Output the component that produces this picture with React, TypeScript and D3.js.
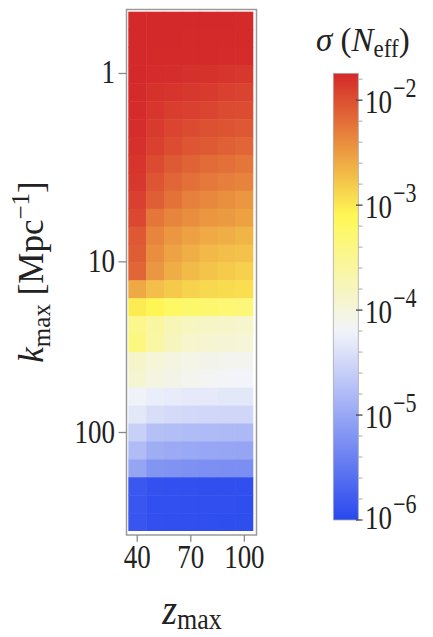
import React from "react";
import * as d3 from "d3";

// ---- data ----
const zMax = [40, 50, 60, 70, 80, 90, 100];
const xTicks = [40, 70, 100];
const yTickLabels = ["1", "10", "100"];
// fractional row position (row index units, 0 = top edge) where each k tick sits
const yTickRowPos = [3.45, 13.97, 23.5];
const cbMajorExp = [-2, -3, -4, -5, -6];
const cbDomain = [-6, -1.744]; // log10 sigma range of the colour bar
// log10 sigma(N_eff), rows top (small k) to bottom (large k), columns z = 40..100
const log10Sigma: number[][] = [
  [-1.75, -1.75, -1.75, -1.75, -1.75, -1.75, -1.76],
  [-1.75, -1.75, -1.75, -1.76, -1.76, -1.76, -1.76],
  [-1.75, -1.76, -1.76, -1.76, -1.76, -1.77, -1.77],
  [-1.75, -1.77, -1.78, -1.8, -1.81, -1.82, -1.85],
  [-1.76, -1.81, -1.82, -1.85, -1.86, -1.9, -1.92],
  [-1.77, -1.83, -1.88, -1.9, -1.93, -1.97, -1.98],
  [-1.78, -1.86, -1.93, -1.97, -2.01, -2.03, -2.06],
  [-1.8, -1.9, -1.98, -2.04, -2.07, -2.11, -2.14],
  [-1.82, -1.97, -2.07, -2.13, -2.18, -2.21, -2.25],
  [-1.85, -2.04, -2.15, -2.21, -2.27, -2.31, -2.34],
  [-1.9, -2.1, -2.23, -2.32, -2.37, -2.42, -2.46],
  [-1.95, -2.25, -2.35, -2.41, -2.46, -2.49, -2.53],
  [-2.06, -2.35, -2.46, -2.53, -2.59, -2.62, -2.66],
  [-2.09, -2.41, -2.54, -2.62, -2.68, -2.72, -2.75],
  [-2.14, -2.46, -2.61, -2.7, -2.76, -2.81, -2.84],
  [-2.58, -2.72, -2.8, -2.85, -2.89, -2.91, -2.93],
  [-3.02, -3.09, -3.21, -3.25, -3.27, -3.3, -3.33],
  [-3.46, -3.6, -3.74, -3.81, -3.85, -3.88, -3.89],
  [-3.38, -3.63, -3.8, -3.9, -3.93, -3.95, -3.97],
  [-3.87, -3.97, -4.03, -4.07, -4.09, -4.11, -4.13],
  [-3.93, -4.03, -4.08, -4.11, -4.15, -4.18, -4.2],
  [-4.22, -4.27, -4.29, -4.31, -4.32, -4.33, -4.33],
  [-4.33, -4.43, -4.47, -4.49, -4.5, -4.51, -4.51],
  [-4.58, -4.74, -4.77, -4.79, -4.8, -4.81, -4.82],
  [-4.79, -4.94, -4.97, -4.99, -5.01, -5.02, -5.03],
  [-5.03, -5.19, -5.22, -5.24, -5.25, -5.26, -5.27],
  [-5.84, -5.91, -5.92, -5.92, -5.93, -5.93, -5.93],
  [-5.85, -5.92, -5.92, -5.93, -5.93, -5.93, -5.94],
  [-5.86, -5.92, -5.93, -5.93, -5.93, -5.94, -5.94],
];
const cmapStops = [-6, -4.2, -3.1, -1.745];
const cmapColors = ["rgb(40,72,238)", "rgb(242,244,250)", "rgb(255,248,85)", "rgb(212,40,42)"];

// ---- layout ----
const W = 433;
const H = 637;
const FONT = "'Liberation Serif', 'DejaVu Serif', serif";
const SY = 1.22;

export default function App() {
  const nRows = log10Sigma.length;
  const x = d3.scaleLinear().domain([35, 105]).range([128.3, 253.3]);
  const row = d3.scaleLinear().domain([0, nRows]).range([11.7, 531]);
  const cb = d3.scaleLinear().domain(cbDomain).range([520, 73.3]);
  const color = d3
    .scaleLinear<string>()
    .domain(cmapStops)
    .range(cmapColors)
    .interpolate(d3.interpolateRgb)
    .clamp(true);

  const halfStep = (zMax[1] - zMax[0]) / 2;
  const cells: JSX.Element[] = [];
  log10Sigma.forEach((r, i) => {
    r.forEach((v, j) => {
      const x0 = x(zMax[j] - halfStep);
      const x1 = x(zMax[j] + halfStep);
      const y0 = row(i);
      const y1 = row(i + 1);
      cells.push(
        <rect
          key={`${i}-${j}`}
          x={x0}
          y={y0}
          width={x1 - x0 + (j < r.length - 1 ? 0.5 : 0)}
          height={y1 - y0 + (i < nRows - 1 ? 0.5 : 0)}
          fill={color(v)}
        />
      );
    });
  });

  const gradStops = d3.range(0, 61).map((k) => {
    const t = k / 60;
    const v = cbDomain[0] + t * (cbDomain[1] - cbDomain[0]);
    return <stop key={k} offset={`${t * 100}%`} stopColor={color(v)} />;
  });

  const minorTicks = d3
    .range(0, 30)
    .map((k) => cbDomain[0] + 0.2 * k)
    .filter((v) => v <= cbDomain[1] + 1e-9 && Math.abs(v - Math.round(v)) > 1e-6);

  const frame = { x0: 126.5, y0: 9.5, x1: 256.5, y1: 535 };
  const cbX0 = 333.3;
  const cbX1 = 358.3;

  return (
    <svg width={W} height={H} style={{ display: "block", position: "absolute", left: 0, top: 0 }}>
      <rect width={W} height={H} fill="#fff" />
      <defs>
        <linearGradient id="cbg" x1="0" y1="1" x2="0" y2="0">
          {gradStops}
        </linearGradient>
      </defs>
      {/* heatmap */}
      <g>{cells}</g>
      {/* frame */}
      <rect
        x={frame.x0}
        y={frame.y0}
        width={frame.x1 - frame.x0}
        height={frame.y1 - frame.y0}
        fill="none"
        stroke="#9a9a9a"
        strokeWidth={1.5}
      />
      {/* y ticks */}
      {yTickRowPos.map((p, i) => {
        const yy = row(p);
        return (
          <g key={`yt${i}`}>
            <line x1={118.5} x2={frame.x0} y1={yy} y2={yy} stroke="#888" strokeWidth={1.3} />
            <text
              transform={`translate(115,${yy + 10}) scale(1,${SY})`}
              textAnchor="end"
              fontFamily={FONT}
              fontSize={27}
              fill="#222"
            >
              {yTickLabels[i]}
            </text>
          </g>
        );
      })}
      {/* x ticks */}
      {xTicks.map((t) => (
        <g key={`xt${t}`}>
          <line x1={x(t)} x2={x(t)} y1={frame.y1} y2={541.7} stroke="#888" strokeWidth={1.3} />
          <text
            transform={`translate(${x(t)},568) scale(1,${SY})`}
            textAnchor="middle"
            fontFamily={FONT}
            fontSize={27}
            fill="#222"
          >
            {t}
          </text>
        </g>
      ))}
      {/* x label */}
      <text
        transform={`translate(192,624) scale(1,1.15)`}
        textAnchor="middle"
        fontFamily={FONT}
        fill="#222"
      >
        <tspan fontStyle="italic" fontSize={38}>z</tspan>
        <tspan fontSize={26} dy={4}>max</tspan>
      </text>
      {/* y label */}
      <text
        transform={`translate(43,272) rotate(-90)`}
        textAnchor="middle"
        fontFamily={FONT}
        fill="#222"
        fontSize={35}
      >
        <tspan fontStyle="italic">k</tspan>
        <tspan fontSize={25} dy={7}>max</tspan>
        <tspan dy={-7}>{" ["}Mpc</tspan>
        <tspan fontSize={25} dy={-14}>{"\u22121"}</tspan>
        <tspan dy={14}>]</tspan>
      </text>
      {/* colour bar */}
      <rect
        x={cbX0}
        y={cb(cbDomain[1])}
        width={cbX1 - cbX0}
        height={cb(cbDomain[0]) - cb(cbDomain[1])}
        fill="url(#cbg)"
        stroke="#aaa"
        strokeWidth={0.8}
      />
      {minorTicks.map((v, i) => (
        <line key={`mn${i}`} x1={cbX1} x2={362.5} y1={cb(v)} y2={cb(v)} stroke="#aaa" strokeWidth={1} />
      ))}
      {cbMajorExp.map((e) => {
        const yy = cb(e);
        const base = Math.min(yy + 13, cb(cbDomain[0]) + 8.5);
        return (
          <g key={`cb${e}`}>
            <line x1={356} x2={362.5} y1={yy} y2={yy} stroke="#444" strokeWidth={1.3} />
            <text
              transform={`translate(365,${base}) scale(1,${SY})`}
              fontFamily={FONT}
              fontSize={27}
              fill="#222"
            >
              10
              <tspan fontSize={22} dy={-13} dx={1}>{`\u2212${Math.abs(e)}`}</tspan>
            </text>
          </g>
        );
      })}
      {/* colour bar title */}
      <text transform={`translate(316,51) scale(1,1.05)`} fontFamily={FONT} fontSize={33} fill="#222">
        <tspan fontStyle="italic">σ</tspan>
        <tspan>{" ("}</tspan>
        <tspan fontStyle="italic">N</tspan>
        <tspan fontSize={23} dy={6}>eff</tspan>
        <tspan dy={-6}>)</tspan>
      </text>
    </svg>
  );
}
